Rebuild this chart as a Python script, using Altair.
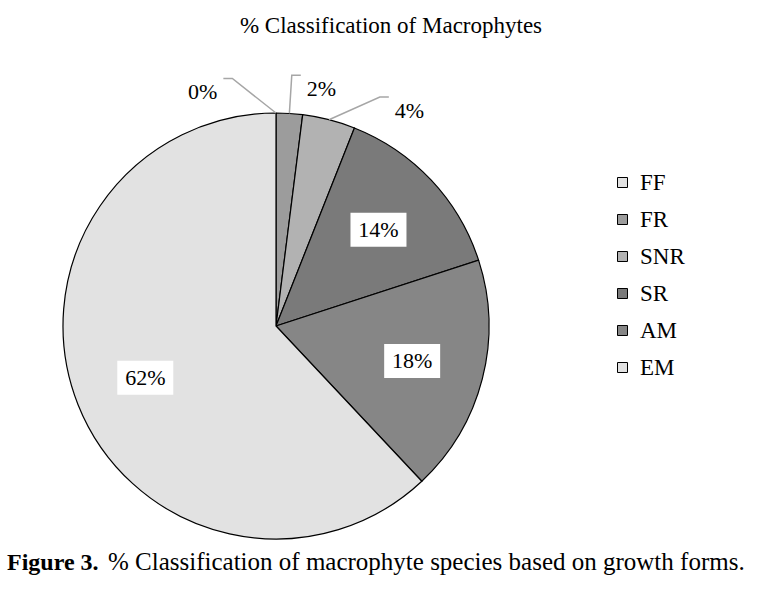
import math
import altair as alt
import pandas as pd

# ---- data ----
categories = ["FF", "FR", "SNR", "SR", "AM", "EM"]
percent = [0, 2, 4, 14, 18, 62]
pct_labels = ["0%", "2%", "4%", "14%", "18%", "62%"]
fill_colors = ["#e2e2e2", "#9c9c9c", "#b2b2b2", "#7a7a7a", "#868686", "#e2e2e2"]
title_text = "% Classification of Macrophytes"
caption_bold = "Figure 3."
caption_rest = "% Classification of macrophyte species based on growth forms."

# ---- layout (pixels) ----
W, H = 777, 589
CX, CY, R = 276, 326, 213
FONT = "Liberation Serif"

pie = pd.DataFrame({"cat": categories, "pct": percent, "idx": list(range(len(categories)))})

total = sum(percent)
starts, acc = [], 0
for p in percent:
    starts.append(acc)
    acc += p
mids = [math.radians((s + p / 2) / total * 360) for s, p in zip(starts, percent)]

# inner labels (large slices) and outer labels with leader lines (small slices)
inner_rows, outer_rows, line_rows = [], [], []
k = 0
for cat, p, lab, m in zip(categories, percent, pct_labels, mids):
    if p >= 10:
        r = 0.66
        x, y = r * math.sin(m), r * math.cos(m)
        inner_rows.append({"cat": cat, "label": lab, "x": x, "y": y,
                           "x0": x - 28 / R, "x1": x + 28 / R,
                           "y0": y - 17 / R, "y1": y + 17 / R})
    else:
        ea = m + math.radians(10 * (k - 1))
        re = 1.18
        ex, ey = re * math.sin(ea), re * math.cos(ea)
        side = -1 if ex < 0 else 1
        endx = ex + side * 9 / R
        line_rows += [
            {"cat": cat, "seq": 0, "x": math.sin(m), "y": math.cos(m)},
            {"cat": cat, "seq": 1, "x": ex, "y": ey},
            {"cat": cat, "seq": 2, "x": endx, "y": ey},
        ]
        outer_rows.append({"cat": cat, "label": lab, "side": side,
                           "x": endx + side * 6 / R, "y": ey - 14 / R})
        k += 1

inner = pd.DataFrame(inner_rows)
outer = pd.DataFrame(outer_rows)
lines = pd.DataFrame(line_rows)

xs = alt.Scale(domain=[-CX / R, (W - CX) / R], nice=False, zero=False)
ys = alt.Scale(domain=[-(H - CY) / R, CY / R], nice=False, zero=False)

arc = alt.Chart(pie).mark_arc(outerRadius=R, stroke="black", strokeWidth=1.2).encode(
    theta=alt.Theta("pct:Q", stack=True),
    order=alt.Order("idx:Q"),
    color=alt.Color(
        "cat:N",
        scale=alt.Scale(domain=categories, range=fill_colors),
        legend=alt.Legend(
            orient="none", legendX=611, legendY=171, title=None,
            symbolType="square", symbolSize=100, symbolStrokeColor="black",
            symbolStrokeWidth=1, labelFont=FONT, labelFontSize=23,
            labelColor="black", labelOffset=6, rowPadding=13, padding=0,
        ),
    ),
    x=alt.value(CX),
    y=alt.value(CY),
)

leader = alt.Chart(lines).mark_line(color="#a6a6a6", strokeWidth=1.5).encode(
    x=alt.X("x:Q", scale=xs, axis=None),
    y=alt.Y("y:Q", scale=ys, axis=None),
    detail="cat:N",
    order="seq:Q",
)

boxes = alt.Chart(inner).mark_rect(color="white").encode(
    x=alt.X("x0:Q", scale=xs, axis=None), x2="x1:Q",
    y=alt.Y("y0:Q", scale=ys, axis=None), y2="y1:Q",
)

inner_text = alt.Chart(inner).mark_text(font=FONT, fontSize=22, color="black",
                                        baseline="middle").encode(
    x=alt.X("x:Q", scale=xs, axis=None),
    y=alt.Y("y:Q", scale=ys, axis=None),
    text="label:N",
)

outer_left = alt.Chart(outer).transform_filter("datum.side < 0").mark_text(
    font=FONT, fontSize=22, color="black", align="right", baseline="middle").encode(
    x=alt.X("x:Q", scale=xs, axis=None),
    y=alt.Y("y:Q", scale=ys, axis=None),
    text="label:N",
)
outer_right = alt.Chart(outer).transform_filter("datum.side > 0").mark_text(
    font=FONT, fontSize=22, color="black", align="left", baseline="middle").encode(
    x=alt.X("x:Q", scale=xs, axis=None),
    y=alt.Y("y:Q", scale=ys, axis=None),
    text="label:N",
)

title = alt.Chart(pd.DataFrame({"t": [title_text]})).mark_text(
    font=FONT, fontSize=23, color="black", align="center", baseline="middle").encode(
    text="t:N", x=alt.value(391), y=alt.value(26))

cap1 = alt.Chart(pd.DataFrame({"t": [caption_bold]})).mark_text(
    font=FONT, fontSize=24, fontWeight="bold", color="black",
    align="left", baseline="alphabetic").encode(
    text="t:N", x=alt.value(7), y=alt.value(570))

cap2 = alt.Chart(pd.DataFrame({"t": [caption_rest]})).mark_text(
    font=FONT, fontSize=25, color="black",
    align="left", baseline="alphabetic").encode(
    text="t:N", x=alt.value(108), y=alt.value(570))

chart = alt.layer(arc, leader, boxes, inner_text, outer_left, outer_right,
                  title, cap1, cap2).properties(
    width=W, height=H,
    autosize=alt.AutoSizeParams(type="none"),
    padding=0,
    background="white",
).configure_view(stroke=None)

chart.save("out.html", embed_options={"renderer": "svg", "actions": False})
